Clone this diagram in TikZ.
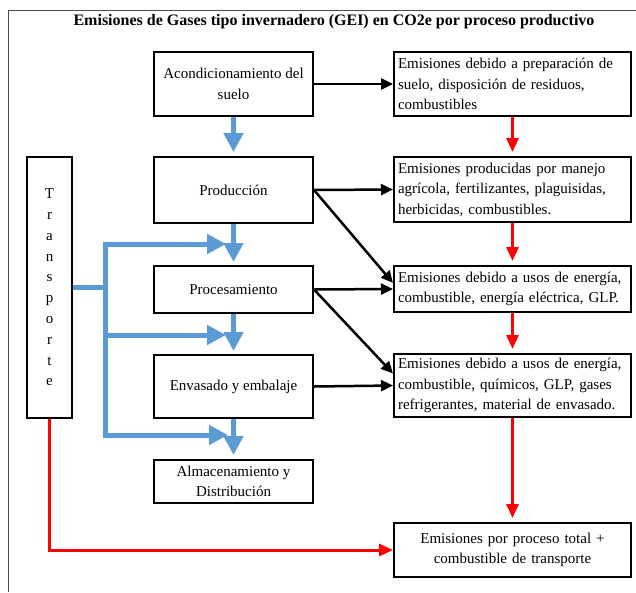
\documentclass[tikz,border=0pt]{standalone}
\usepackage{fontspec}
\setmainfont{Liberation Serif}
\usepackage{xcolor}
\usetikzlibrary{arrows.meta}
\definecolor{flowblue}{RGB}{91,155,213}

\begin{document}
\begin{tikzpicture}[x=1pt,y=-1pt,
    procbox/.style={draw, line width=2pt, minimum width=159pt, align=center, inner sep=2pt, font=\fontsize{15}{20.5}\selectfont},
    emisbox/.style={draw, line width=2pt, text width=229pt, align=left, inner xsep=4pt, inner ysep=2pt, font=\fontsize{15}{20.5}\selectfont},
    blackarrow/.style={line width=2.5pt, -{Triangle[width=11pt,length=12pt]}},
    redarrow/.style={red, line width=3pt, -{Triangle[width=12pt,length=14pt]}},
    blueline/.style={flowblue, line width=5pt},
    bluearrow/.style={blueline, -{Triangle[width=19pt,length=19pt]}}]

    \useasboundingbox (0,0) rectangle (636,592);
    \draw[gray!60!black, line width=1pt] (636,10) -- (8,10) -- (8,592);

    \node[font=\bfseries\fontsize{16}{18}\selectfont] (title) at (334,22) {Emisiones de Gases tipo invernadero (GEI) en CO2e por proceso productivo};

    % process column
    \node[procbox, minimum height=64pt] (A) at (233.5,84) {Acondicionamiento del\\suelo};
    \node[procbox, minimum height=66pt] (P) at (233.5,190) {Producción};
    \node[procbox, minimum height=47pt] (Pr) at (233.5,289.5) {Procesamiento};
    \node[procbox, minimum height=63pt] (Env) at (233.5,386.5) {Envasado y embalaje};
    \node[procbox, minimum height=43pt] (Alm) at (233.5,481.5) {Almacenamiento y\\Distribución};

    % emission column
    \node[emisbox, minimum height=64pt] (E1) at (512.5,84) {Emisiones debido a preparación de\\suelo, disposición de residuos,\\combustibles};
    \node[emisbox, minimum height=65pt] (E2) at (512.5,189.5) {Emisiones producidas por manejo\\agrícola, fertilizantes, plaguisidas,\\herbicidas, combustibles.};
    \node[emisbox, minimum height=46pt] (E3) at (512.5,289) {Emisiones debido a usos de energía,\\combustible, energía eléctrica, GLP.};
    \node[emisbox, minimum height=63pt] (E4) at (512.5,385.5) {Emisiones debido a usos de energía,\\combustible, químicos, GLP, gases\\refrigerantes, material de envasado.};
    \node[emisbox, align=center, minimum height=54pt] (Fin) at (512.5,550) {Emisiones por proceso total +\\combustible de transporte};

    \node[draw, line width=2pt, minimum width=45pt, minimum height=261pt, align=center, inner sep=0pt, font=\fontsize{15}{20.8}\selectfont] (T) at (49.5,287.5) {T\\r\\a\\n\\s\\p\\o\\r\\t\\e};

    \draw[blackarrow] (A.east) -- (E1.west);
    \draw[blackarrow] (P.east) -- (E2.west);
    \draw[blackarrow] (P.east) -- ([yshift=6pt]E3.west);
    \draw[blackarrow] (Pr.east) -- (E3.west);
    \draw[blackarrow] (Pr.east) -- ([yshift=12pt]E4.west);
    \draw[blackarrow] (Env.east) -- (E4.west);

    \draw[redarrow, shorten >=4pt] (E1.south) -- (E2.north);
    \draw[redarrow, shorten >=4pt] (E2.south) -- (E3.north);
    \draw[redarrow, shorten >=4pt] (E3.south) -- (E4.north);
    \draw[redarrow, shorten >=4pt] (E4.south) -- (Fin.north);
    \draw[redarrow] (T.south) |- (Fin.west);

    \draw[bluearrow, shorten >=4pt] (A.south) -- (P.north);
    \draw[bluearrow, shorten >=3pt] (P.south) -- (Pr.north);
    \draw[bluearrow, shorten >=3pt] (Pr.south) -- (Env.north);
    \draw[bluearrow, shorten >=4pt] (Env.south) -- (Alm.north);

    % transport branches
    \coordinate (trunktop) at (105,244);
    \coordinate (trunkbot) at (105,435);
    \coordinate (tip1) at (226,244);
    \coordinate (tip2) at (226,335);
    \coordinate (tip3) at (228,435);
    \draw[blueline] (T.east) -- (T.east -| trunktop);
    \draw[blueline, {Triangle[width=19pt,length=19pt]}-{Triangle[width=19pt,length=19pt]}] (tip1) -- (trunktop) -- (trunkbot) -- (tip3);
    \draw[bluearrow] (trunktop |- tip2) -- (tip2);

\end{tikzpicture}
\end{document}
